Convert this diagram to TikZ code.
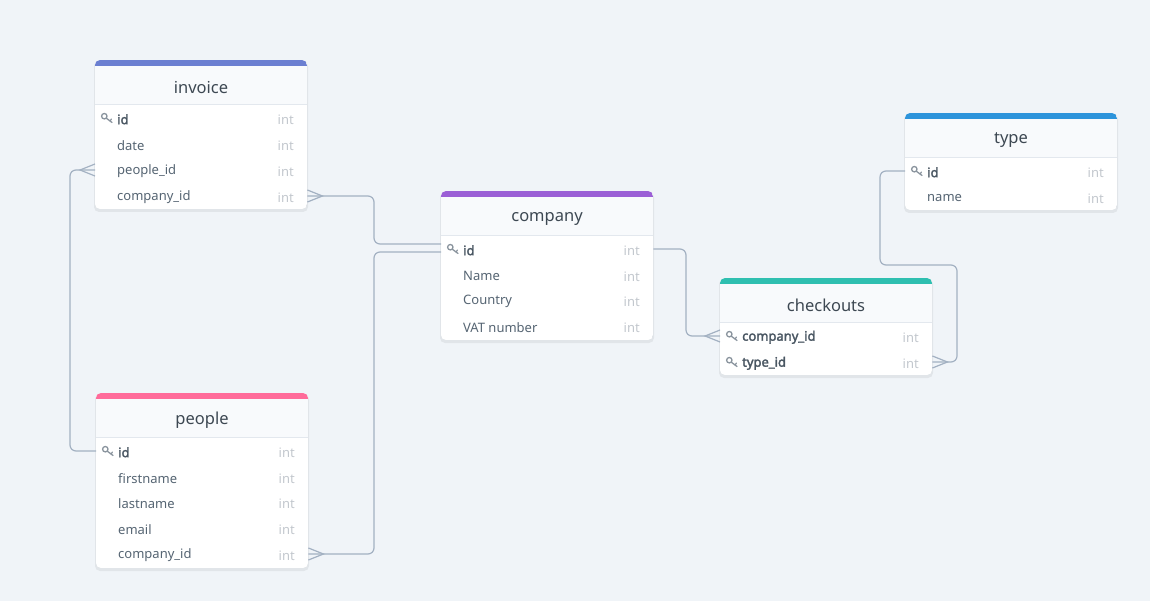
\documentclass[tikz,border=0pt]{standalone}
\usepackage{fontspec}
\setmainfont{Noto Sans}
\newfontfamily\keyfont{Noto Sans}[FakeBold=2.2]
\usetikzlibrary{calc}
\definecolor{bg}{HTML}{F0F4F8}
\definecolor{hdr}{HTML}{F8FAFC}
\definecolor{sep}{HTML}{E3E8EE}
\definecolor{conn}{HTML}{A3B1C2}
\definecolor{ttl}{HTML}{3D4852}
\definecolor{rowtxt}{HTML}{566573}
\definecolor{inttxt}{HTML}{C3C8CE}
\definecolor{keyc}{HTML}{8A949E}
\definecolor{cinv}{HTML}{6B7FD1}
\definecolor{ccomp}{HTML}{9B5FD6}
\definecolor{ctype}{HTML}{2D94DB}
\definecolor{cchk}{HTML}{2FBFB0}
\definecolor{cpeo}{HTML}{FF6B9A}
\tikzset{
  rowbox/.style={minimum width=212pt,minimum height=26pt,inner sep=0pt,anchor=west},
  rowlabel/.style={anchor=west,inner sep=0pt,font=\fontsize{13}{15}\selectfont,text=rowtxt},
  keylabel/.style={anchor=west,inner sep=0pt,font=\keyfont\fontsize{13}{15}\selectfont,text=rowtxt!85!black},
  typelabel/.style={anchor=east,inner sep=0pt,font=\fontsize{13}{15}\selectfont,text=inttxt},
  titlelabel/.style={inner sep=0pt,font=\fontsize{16.5}{19}\selectfont,text=ttl},
  connline/.style={draw=conn,line width=1.2pt,rounded corners=6pt},
  crowline/.style={draw=conn,line width=1.2pt},
}
% #1 name, #2 x, #3 y top, #4 color, #5 title, #6 rows
\newcommand\erdcard[6]{%
  \fill[black,opacity=0.06,rounded corners=5pt] (#2-1,#3+1) rectangle (#2+213,#3+46+26*#6+2);
  \begin{scope}
    \clip[rounded corners=5pt] (#2,#3) rectangle (#2+212,#3+45+26*#6);
    \fill[white] (#2,#3) rectangle (#2+212,#3+45+26*#6);
    \fill[hdr] (#2,#3) rectangle (#2+212,#3+44);
    \fill[#4] (#2,#3) rectangle (#2+212,#3+6);
    \draw[sep,line width=0.8pt] (#2,#3+44) -- (#2+212,#3+44);
  \end{scope}
  \node[titlelabel] (#1-title) at (#2+106,#3+27.5) {#5};
}
% #1 node name, #2 x, #3 y centre, #4 text, #5 key (1/0)
\newcommand\erdrow[5]{%
  \node[rowbox] (#1) at (#2,#3) {};
  \ifnum#5=1
    \node[keylabel] (#1-t) at (#2+22,#3+1.3) {#4};
    \draw[keyc,line width=1.3pt] (#2+9.3,#3-1.8) circle (2.7pt);
    \draw[keyc,line width=1.3pt,line cap=round] (#2+11.3,#3+0.2) -- (#2+17,#3+4.5);
    \draw[keyc,line width=1.2pt,line cap=round] (#2+15,#3+3) -- (#2+16.5,#3+1);
  \else
    \node[rowlabel] (#1-t) at (#2+22,#3+1.3) {#4};
  \fi
  \node[typelabel] (#1-i) at (#2+199,#3+1.3) {int};
}
\newcommand\crowR[1]{\draw[crowline] ($(#1)+(0,-6)$) -- ($(#1)+(15,0)$) -- ($(#1)+(0,6)$);}
\newcommand\crowL[1]{\draw[crowline] ($(#1)+(0,-6)$) -- ($(#1)+(-15,0)$) -- ($(#1)+(0,6)$);}
\begin{document}
\begin{tikzpicture}[x=1pt,y=-1pt]
\fill[bg] (0,0) rectangle (1150,601);
\useasboundingbox (0,0) rectangle (1150,601);

% invoice
\erdcard{inv}{95}{60}{cinv}{invoice}{4}
\erdrow{inv-1}{95}{118}{id}{1}
\erdrow{inv-2}{95}{144}{date}{0}
\erdrow{inv-3}{95}{170}{people\_id}{0}
\erdrow{inv-4}{95}{196}{company\_id}{0}

% company
\erdcard{comp}{441}{191}{ccomp}{company}{4}
\erdrow{comp-1}{441}{249}{id}{1}
\erdrow{comp-2}{441}{275}{Name}{0}
\erdrow{comp-3}{441}{300}{Country}{0}
\erdrow{comp-4}{441}{326}{VAT number}{0}

% type
\erdcard{typ}{905}{113}{ctype}{type}{2}
\erdrow{typ-1}{905}{171}{id}{1}
\erdrow{typ-2}{905}{197}{name}{0}

% checkouts
\erdcard{chk}{720}{278}{cchk}{checkouts}{2}
\erdrow{chk-1}{720}{336}{company\_id}{1}
\erdrow{chk-2}{720}{362}{type\_id}{1}

% people
\erdcard{peo}{96}{393}{cpeo}{people}{5}
\erdrow{peo-1}{96}{451}{id}{1}
\erdrow{peo-2}{96}{477}{firstname}{0}
\erdrow{peo-3}{96}{502}{lastname}{0}
\erdrow{peo-4}{96}{528}{email}{0}
\erdrow{peo-5}{96}{554}{company\_id}{0}

% connectors
\coordinate (jx1) at (374,0);
\coordinate (jx2) at (686,0);
\coordinate (jx3) at (880,0);
\coordinate (jx4) at (957,0);
\coordinate (jx5) at (70,0);
\coordinate (jy4) at (0,265);
\coordinate (ca) at ([yshift=5pt]comp-1.west);
\coordinate (cb) at ([yshift=-3pt]comp-1.west);

% invoice.company_id -> company.id
\draw[connline] (inv-4.east) -- (inv-4.east -| jx1) -- (jx1 |- ca) -- (ca);
\crowR{inv-4.east}
% people.company_id -> company.id
\draw[connline] (peo-5.east) -- (peo-5.east -| jx1) -- (jx1 |- cb) -- (cb);
\crowR{peo-5.east}
% company.id -> checkouts.company_id
\draw[connline] (comp-1.east) -- (comp-1.east -| jx2) -- (jx2 |- chk-1.west) -- (chk-1.west);
\crowL{chk-1.west}
% type.id -> checkouts.type_id
\draw[connline] (typ-1.west) -- (typ-1.west -| jx3) -- (jx3 |- jy4) -- (jx4 |- jy4) -- (jx4 |- chk-2.east) -- (chk-2.east);
\crowR{chk-2.east}
% people.id -> invoice.people_id
\draw[connline] (peo-1.west) -- (peo-1.west -| jx5) -- (jx5 |- inv-3.west) -- (inv-3.west);
\crowL{inv-3.west}
\end{tikzpicture}
\end{document}
